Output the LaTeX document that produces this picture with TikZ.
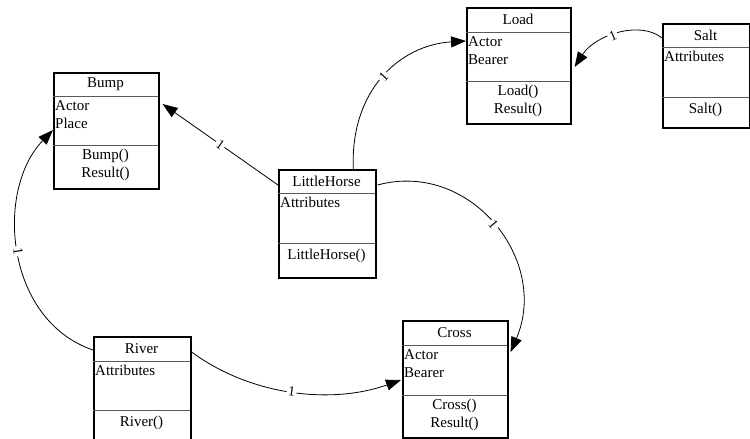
\documentclass[tikz,border=0pt]{standalone}
\usepackage{fontspec}
\setmainfont{Liberation Serif}
\usetikzlibrary{arrows.meta}
\begin{document}
\begin{tikzpicture}[x=1pt,y=-1pt,
  every node/.style={font=\fontsize{15}{18}\selectfont},
  clsbox/.style={draw, line width=1.6pt, inner sep=0pt, anchor=north west},
  divline/.style={draw=black!65, line width=0.9pt},
  ctitle/.style={inner sep=0pt, anchor=center},
  cattr/.style={anchor=north west, align=left, inner sep=2pt},
  cmeth/.style={anchor=north, align=center, inner sep=2pt},
  assoc/.style={draw, line width=0.8pt, -{Triangle[length=15pt,width=11pt]}},
  mult/.style={sloped, fill=white, inner sep=1.5pt, font=\fontsize{14}{14}\selectfont}]
\useasboundingbox (0,0) rectangle (750,439);

% Bump
\node[clsbox, minimum width=105pt, minimum height=116pt] (bump) at (53,72) {};
\draw[divline] (53,96) -- (158,96);
\draw[divline] (53,145) -- (158,145);
\node[ctitle] (bumpT) at (105.5,84) {Bump};
\node[cattr] (bumpA) at (53,98) {Actor\\Place};
\node[cmeth] (bumpM) at (105.5,147) {Bump()\\Result()};

% Load
\node[clsbox, minimum width=104pt, minimum height=116pt] (load) at (466,7) {};
\draw[divline] (466,32) -- (570,32);
\draw[divline] (466,81) -- (570,81);
\node[ctitle] (loadT) at (518,19.5) {Load};
\node[cattr] (loadA) at (466,34) {Actor\\Bearer};
\node[cmeth] (loadM) at (518,83) {Load()\\Result()};

% Salt
\node[clsbox, minimum width=87pt, minimum height=104pt] (salt) at (662,23) {};
\draw[divline] (662,47) -- (749,47);
\draw[divline] (662,97) -- (749,97);
\node[ctitle] (saltT) at (705.5,35) {Salt};
\node[cattr] (saltA) at (662,49) {Attributes};
\node[cmeth] (saltM) at (705.5,101) {Salt()};

% LittleHorse
\node[clsbox, minimum width=97pt, minimum height=108pt] (lh) at (278,169) {};
\draw[divline] (278,193) -- (375,193);
\draw[divline] (278,243) -- (375,243);
\node[ctitle] (lhT) at (326.5,181) {LittleHorse};
\node[cattr] (lhA) at (278,195) {Attributes};
\node[cmeth] (lhM) at (326.5,247) {LittleHorse()};

% River
\node[clsbox, minimum width=97pt, minimum height=105pt] (river) at (93,336) {};
\draw[divline] (93,361) -- (190,361);
\draw[divline] (93,410) -- (190,410);
\node[ctitle] (riverT) at (141.5,348.5) {River};
\node[cattr] (riverA) at (93,363) {Attributes};
\node[cmeth] (riverM) at (141.5,414) {River()};

% Cross
\node[clsbox, minimum width=105pt, minimum height=117pt] (cross) at (402,320) {};
\draw[divline] (402,345) -- (507,345);
\draw[divline] (402,395) -- (507,395);
\node[ctitle] (crossT) at (454.5,332.5) {Cross};
\node[cattr] (crossA) at (402,347) {Actor\\Bearer};
\node[cmeth] (crossM) at (454.5,397) {Cross()\\Result()};

% connectors
\draw[assoc] ([yshift=-16pt]lh.north west) -- node[mult, pos=0.5] {1} ([xshift=3pt,yshift=-32pt]bump.north east);
\draw[assoc] ([xshift=26pt]lh.north) .. controls (350,90) and (400,45) .. node[mult, pos=0.5] {1} ([yshift=-34pt]load.north west);
\draw[assoc] ([yshift=-15pt]salt.north west) .. controls (640,20) and (595,35) .. node[mult, pos=0.55] {1} ([xshift=3pt,yshift=-60pt]load.north east);
\draw[assoc] ([xshift=1pt,yshift=-16pt]lh.north east) .. controls (470,160) and (550,260) .. node[mult, pos=0.5] {1} ([xshift=2pt,yshift=-32pt]cross.north east);
\draw[assoc] ([yshift=-14pt]river.north west) .. controls (5,320) and (-5,190) .. node[mult, pos=0.5] {1} ([yshift=-58pt]bump.north west);
\draw[assoc] ([yshift=-16pt]river.north east) .. controls (250,395) and (330,405) .. node[mult, pos=0.5] {1} ([xshift=-1pt,yshift=-60pt]cross.north west);
\end{tikzpicture}
\end{document}
